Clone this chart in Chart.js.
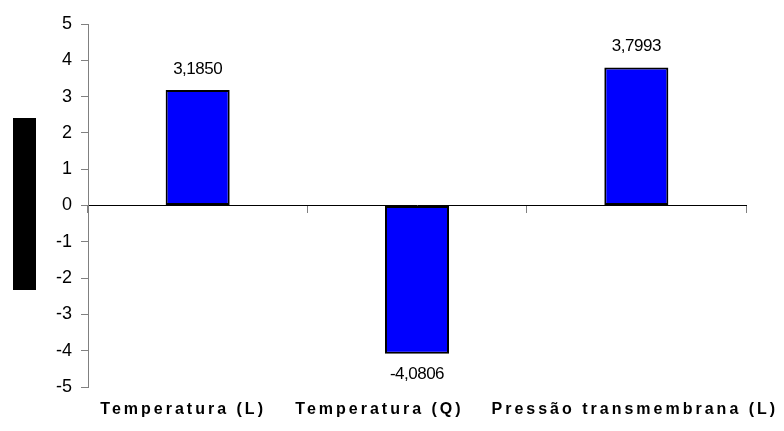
<!DOCTYPE html>
<html>
<head>
<meta charset="utf-8">
<script src="https://cdn.jsdelivr.net/npm/chart.js@4"></script>
<style>
  body { margin: 0; background: #fff; }
</style>
</head>
<body>
<canvas id="chart" width="784" height="431"></canvas>
<script>
const categories = ["Temperatura (L)", "Temperatura (Q)", "Pressão transmembrana (L)"]
const effects = [3.1850, -4.0806, 3.7993]
const yTicks = [5, 4, 3, 2, 1, 0, -1, -2, -3, -4, -5]
// the category names in the original sit a little left of their bars
const labelShift = [-16, -39, -3]

Chart.defaults.font.family = "'Liberation Sans', Arial, sans-serif"
Chart.defaults.color = "#000"

// value labels above / below each bar, Excel style "3,1850"
const valueLabels = {
  id: "valueLabels",
  afterDatasetsDraw(chart) {
    const ctx = chart.ctx
    const meta = chart.getDatasetMeta(0)
    ctx.save()
    ctx.font = "17px 'Liberation Sans', Arial"
    ctx.letterSpacing = "-0.5px"
    ctx.fillStyle = "#000"
    ctx.textAlign = "center"
    ctx.textBaseline = "middle"
    meta.data.forEach((bar, i) => {
      const v = effects[i]
      const y = v >= 0 ? bar.y - 21 : bar.y + 21
      ctx.fillText(v.toFixed(4).replace(".", ","), bar.x, y)
    })
    ctx.restore()
  }
}

// spaced bold category names under the plot + the black box on the left
const extras = {
  id: "extras",
  afterDraw(chart) {
    const ctx = chart.ctx
    const xs = chart.scales.x
    ctx.save()
    ctx.font = "bold 16px 'Liberation Sans', Arial"
    ctx.letterSpacing = "3px"
    ctx.fillStyle = "#000"
    ctx.textAlign = "center"
    ctx.textBaseline = "middle"
    categories.forEach((c, i) => {
      ctx.fillText(c, xs.getPixelForValue(i) + labelShift[i] + 1.5, 410)
    })
    ctx.restore()
    ctx.fillStyle = "#000"
    ctx.fillRect(13, 118, 23, 172)
  }
}

const data = {
  labels: categories,
  datasets: [{
    data: effects,
    backgroundColor: "#0000ff",
    borderColor: "#000",
    borderWidth: 2,
    borderSkipped: false,
    categoryPercentage: 1,
    barPercentage: 0.292
  }]
}

const config = {
  type: "bar",
  data,
  options: {
    responsive: false,
    animation: false,
    devicePixelRatio: 1,
    layout: { padding: { top: 24, right: 38, bottom: 44, left: 0 } },
    plugins: {
      legend: { display: false },
      tooltip: { enabled: false }
    },
    scales: {
      x: {
        position: { y: 0 },
        offset: true,
        grid: {
          offset: true,
          drawOnChartArea: false,
          color: "#808080",
          tickLength: 7
        },
        border: { color: "#000", width: 1 },
        ticks: { display: false }
      },
      y: {
        min: -5,
        max: 5,
        afterFit(scale) { scale.width = 88 },
        afterBuildTicks(scale) { scale.ticks = yTicks.map(v => ({ value: v })) },
        grid: {
          drawOnChartArea: false,
          color: "#808080",
          tickLength: 7
        },
        border: { color: "#808080", width: 1 },
        ticks: {
          font: { size: 18 },
          padding: 9,
          color: "#000"
        }
      }
    }
  },
  plugins: [valueLabels, extras]
}

new Chart(document.getElementById("chart"), config)
</script>
</body>
</html>
